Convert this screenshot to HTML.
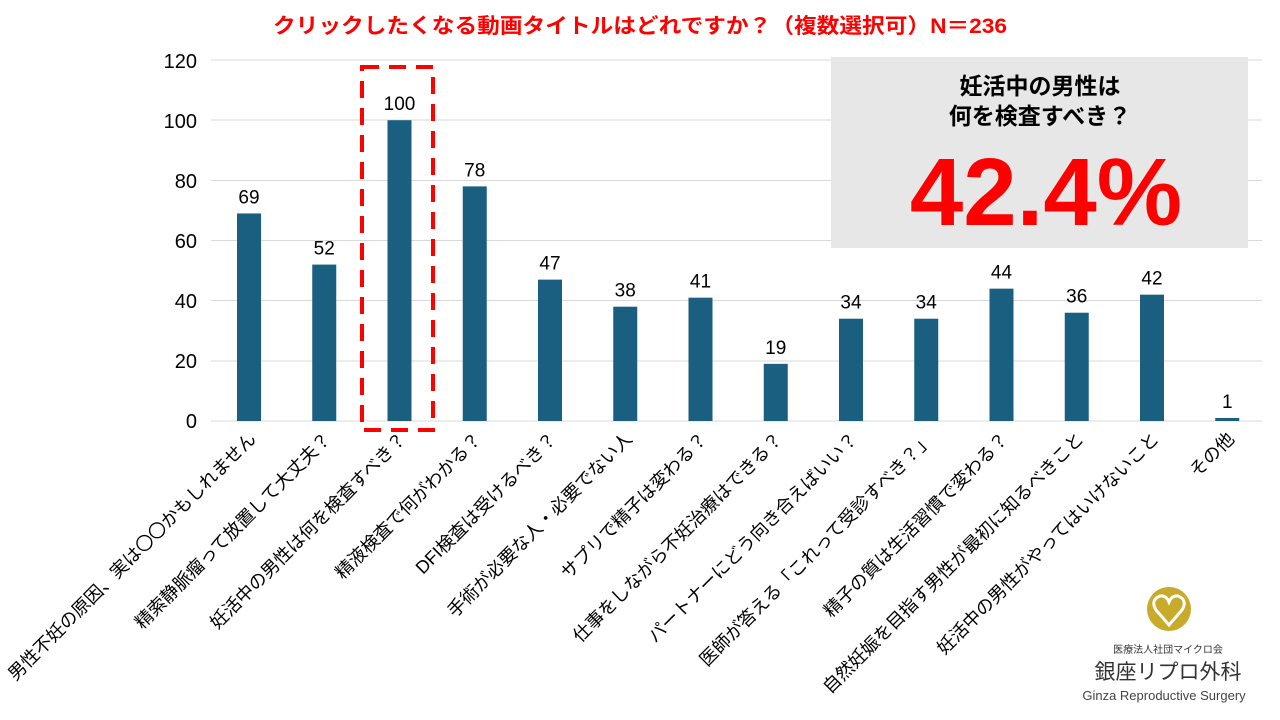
<!DOCTYPE html><html><head><meta charset="utf-8"><style>body{margin:0;background:#fff}svg{display:block}text{font-family:"Liberation Sans","Noto Sans CJK JP",sans-serif}</style></head><body>
<svg width="1280" height="720" viewBox="0 0 1280 720">
<text x="640" y="33" text-anchor="middle" font-size="21" font-weight="bold" fill="#ff0000" textLength="734" lengthAdjust="spacingAndGlyphs">クリックしたくなる動画タイトルはどれですか？（複数選択可）N＝236</text>
<g stroke="#d9d9d9" stroke-width="1">
<line x1="211" x2="1262" y1="60" y2="60"/><line x1="211" x2="1262" y1="120" y2="120"/><line x1="211" x2="1262" y1="180.5" y2="180.5"/><line x1="211" x2="1262" y1="240.5" y2="240.5"/><line x1="211" x2="1262" y1="300.5" y2="300.5"/><line x1="211" x2="1262" y1="361" y2="361"/><line x1="211" x2="1262" y1="421" y2="421"/></g>
<g font-size="20" text-anchor="end" fill="#000">
<text x="197" y="68">120</text><text x="197" y="128">100</text><text x="197" y="188">80</text><text x="197" y="248">60</text><text x="197" y="308">40</text><text x="197" y="368">20</text><text x="197" y="428">0</text></g>
<g id="bars" fill="#1a5f80"></g>
<g id="vals" font-size="19" text-anchor="middle" fill="#000"></g>
<g id="labs" font-size="18" text-anchor="end" fill="#000"></g>
<rect x="362" y="67" width="71" height="363" fill="none" stroke="#ff0000" stroke-width="4" stroke-dasharray="17,10"/>
<rect x="831" y="57" width="417" height="191" fill="#e7e7e7"/>
<text x="1040" y="94" text-anchor="middle" font-size="23" font-weight="bold">妊活中の男性は</text>
<text x="1040" y="124" text-anchor="middle" font-size="23" font-weight="bold">何を検査すべき？</text>
<text x="1046" y="225" text-anchor="middle" font-size="96" font-weight="bold" fill="#ff0000">42.4%</text>
<circle cx="1169" cy="609" r="22" fill="#c8ab2a"/>
<path d="M1169 625 L1156 610 Q1150 600 1160 596 Q1166 595 1169 602 Q1172 595 1178 596 Q1188 600 1182 610 Z" fill="none" stroke="#fff" stroke-width="3"/>
<text x="1168" y="653" text-anchor="middle" font-size="10" fill="#333">医療法人社団マイクロ会</text>
<text x="1168" y="679" text-anchor="middle" font-size="21" fill="#333">銀座リプロ外科</text>
<text x="1164" y="700" text-anchor="middle" font-size="13" fill="#444">Ginza Reproductive Surgery</text>
</svg>
<script>
var v=[69,52,100,78,47,38,41,19,34,34,44,36,42,1];
var l=["男性不妊の原因、実は〇〇かもしれません","精索静脈瘤って放置して大丈夫？","妊活中の男性は何を検査すべき？","精液検査で何がわかる？","DFI検査は受けるべき？","手術が必要な人・必要でない人","サプリで精子は変わる？","仕事をしながら不妊治療はできる？","パートナーにどう向き合えばいい？","医師が答える「これって受診すべき？」","精子の質は生活習慣で変わる？","自然妊娠を目指す男性が最初に知るべきこと","妊活中の男性がやってはいけないこと","その他"];
var ns="http://www.w3.org/2000/svg",b=document.getElementById('bars'),t=document.getElementById('vals'),L=document.getElementById('labs');
for(var i=0;i<14;i++){var cx=249+i*75.25,h=v[i]*3.008;
var r=document.createElementNS(ns,'rect');r.setAttribute('x',cx-12);r.setAttribute('y',421-h);r.setAttribute('width',24);r.setAttribute('height',h);b.appendChild(r);
var a=document.createElementNS(ns,'text');a.setAttribute('x',cx);a.setAttribute('y',421-h-10);a.textContent=v[i];t.appendChild(a);
var c=document.createElementNS(ns,'text');c.setAttribute('transform','translate('+(cx+8)+',440) rotate(-45)');c.textContent=l[i];L.appendChild(c);}
</script>
</body></html>
